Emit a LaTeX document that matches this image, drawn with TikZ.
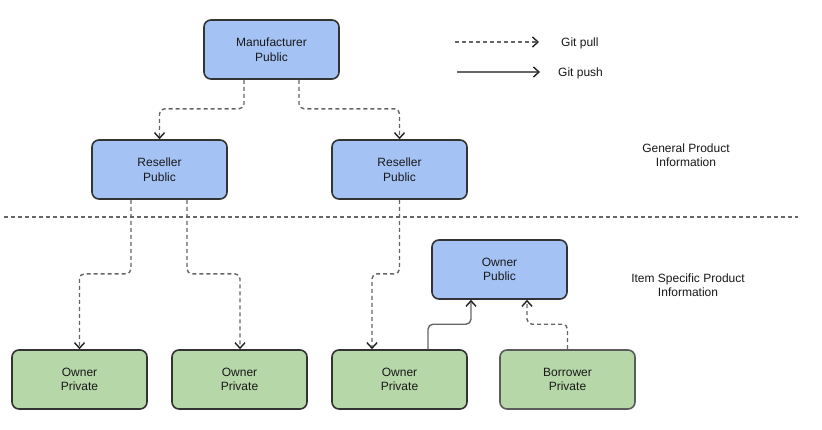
\documentclass[tikz,border=0pt]{standalone}
\usepackage{fontspec}
\setmainfont{Liberation Sans}
\usetikzlibrary{arrows.meta,calc}
\definecolor{bluefill}{HTML}{A4C2F4}
\definecolor{greenfill}{HTML}{B6D7A8}
\definecolor{boxline}{HTML}{333333}
\definecolor{connline}{HTML}{666666}
\definecolor{tipcol}{HTML}{222222}
\tikzset{
  box/.style={rectangle, rounded corners=7pt, draw=boxline, line width=1.6pt,
    minimum width=135pt, minimum height=59pt, align=center, inner sep=0pt,
    font=\fontsize{12}{14.5}\selectfont, text=black!90},
  pubbox/.style={box, fill=bluefill},
  privbox/.style={box, fill=greenfill},
  tipstyle/.style={-{Straight Barb[length=5.5pt,width=10pt,line width=1.4pt,color=tipcol]}},
  pull/.style={draw=connline, line width=1.4pt, dash pattern=on 4pt off 3pt, rounded corners=5pt, tipstyle},
  push/.style={draw=connline, line width=1.4pt, rounded corners=5pt, tipstyle},
  lbl/.style={align=center, font=\fontsize{12}{14.5}\selectfont, inner sep=0pt, text=black!90},
}
\begin{document}
\begin{tikzpicture}[x=1pt,y=-1pt]
\useasboundingbox (0,0) rectangle (822,429);
\fill[white] (0,0) rectangle (822,429);

\node[pubbox] (man) at (271.5,49.5) {Manufacturer\\Public};
\node[pubbox] (r1) at (159.5,169.5) {Reseller\\Public};
\node[pubbox] (r2) at (399.5,169.5) {Reseller\\Public};
\node[pubbox] (op) at (499.5,269.5) {Owner\\Public};
\node[privbox] (p1) at (79.5,379.5) {Owner\\Private};
\node[privbox] (p2) at (239.5,379.5) {Owner\\Private};
\node[privbox] (p3) at (399.5,379.5) {Owner\\Private};
\node[privbox, draw=boxline!80] (bp) at (567.5,379.5) {Borrower\\Private};

% connectors
\draw[pull] ([xshift=-27.5pt]man.south) -- ++(0,29) -| (r1.north);
\draw[pull] ([xshift=27.5pt]man.south) -- ++(0,29) -| (r2.north);
\draw[pull] ([xshift=-28.5pt]r1.south) -- ++(0,74) -| (p1.north);
\draw[pull] ([xshift=27.5pt]r1.south) -- ++(0,74) -| ([xshift=0.5pt]p2.north);
\draw[pull] (r2.south) -- ++(0,74) -| ([xshift=-27.5pt]p3.north);
\draw[push] ([xshift=28.5pt]p3.north) -- ++(0,-25) -| ([xshift=-28.5pt]op.south);
\draw[pull] (bp.north) -- ++(0,-25) -| ([xshift=27.5pt]op.south);

% separator
\coordinate (sepL) at (4,217);
\coordinate (sepR) at (798,217);
\draw[draw=connline, line width=1.4pt, dash pattern=on 4pt off 3pt] (sepL) -- (sepR);

% legend
\coordinate (lpa) at (455,42);
\coordinate (lpb) at (539,42);
\coordinate (lsa) at (457,72);
\coordinate (lsb) at (540,72);
\draw[pull] (lpa) -- (lpb);
\draw[push] (lsa) -- (lsb);
\node[lbl, anchor=west] (lpull) at (561,43) {Git pull};
\node[lbl, anchor=west] (lpush) at (558,73) {Git push};

% section labels
\node[lbl] (gen) at (686,155) {General Product\\Information};
\node[lbl] (item) at (688,285) {Item Specific Product\\Information};
\end{tikzpicture}
\end{document}
